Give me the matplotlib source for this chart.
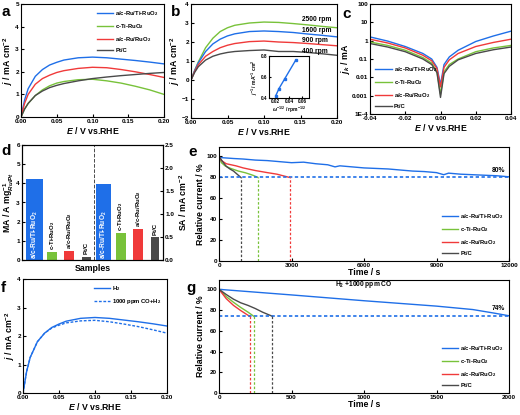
import numpy as np
import matplotlib
matplotlib.use('Agg')
import matplotlib.pyplot as plt

plt.rcParams['font.family'] = ['Liberation Sans', 'DejaVu Sans']
plt.rcParams['font.weight'] = 'bold'
plt.rcParams['axes.labelweight'] = 'bold'
plt.rcParams['mathtext.fontset'] = 'custom'
plt.rcParams['mathtext.rm'] = 'Liberation Sans:bold'
plt.rcParams['mathtext.it'] = 'Liberation Sans:italic:bold'
plt.rcParams['mathtext.bf'] = 'Liberation Sans:bold'
plt.rcParams['axes.linewidth'] = 0.8
plt.rcParams['xtick.direction'] = 'in'
plt.rcParams['ytick.direction'] = 'in'
plt.rcParams['xtick.major.size'] = 2
plt.rcParams['ytick.major.size'] = 2
plt.rcParams['xtick.labelsize'] = 4.6
plt.rcParams['ytick.labelsize'] = 4.6
plt.rcParams['axes.labelsize'] = 6.3
plt.rcParams['xtick.major.pad'] = 1.5
plt.rcParams['ytick.major.pad'] = 1.5

BLUE = '#1f6fe8'
GREEN = '#78c23a'
RED = '#f03a3a'
GRAY = '#4a4a4a'

# ---- data ----
# a: LSV curves
E = [0, 0.005, 0.01, 0.02, 0.03, 0.04, 0.05, 0.06, 0.08, 0.1, 0.12, 0.14, 0.16, 0.18, 0.2]
a_blue = [0, 0.75, 1.25, 1.8, 2.1, 2.3, 2.42, 2.52, 2.62, 2.65, 2.62, 2.56, 2.5, 2.43, 2.35]
a_green = [0, 0.35, 0.6, 0.95, 1.2, 1.38, 1.5, 1.57, 1.65, 1.67, 1.6, 1.5, 1.36, 1.2, 1.0]
a_red = [0, 0.6, 1.0, 1.45, 1.7, 1.85, 1.97, 2.05, 2.15, 2.2, 2.18, 2.1, 2.0, 1.88, 1.75]
a_gray = [0, 0.35, 0.6, 0.95, 1.15, 1.3, 1.4, 1.48, 1.6, 1.7, 1.77, 1.83, 1.88, 1.93, 1.97]
labels = ['a/c-Ru/Ti-RuO$_2$', 'c-Ti-RuO$_2$', 'a/c-Ru/RuO$_2$', 'Pt/C']

# b: rotating speeds
b_2500 = [0, 0.5, 0.95, 1.7, 2.2, 2.55, 2.75, 2.88, 3.0, 3.05, 3.03, 2.97, 2.9, 2.82, 2.75]
b_1600 = [0, 0.5, 0.9, 1.5, 1.9, 2.15, 2.32, 2.43, 2.55, 2.58, 2.55, 2.5, 2.42, 2.35, 2.27]
b_900 = [0, 0.45, 0.8, 1.25, 1.5, 1.7, 1.83, 1.92, 2.02, 2.05, 2.0, 1.97, 1.92, 1.86, 1.8]
b_400 = [0, 0.4, 0.7, 1.05, 1.25, 1.37, 1.45, 1.5, 1.55, 1.58, 1.5, 1.5, 1.45, 1.38, 1.3]
rpm_labels = ['2500 rpm', '1600 rpm', '900 rpm', '400 rpm']
kl_x = [0.02, 0.025, 0.0333, 0.05]
kl_y = [0.42, 0.49, 0.58, 0.76]

# c: kinetic current (log)
Ec = [-0.04, -0.03, -0.02, -0.01, -0.005, -0.002, 0, 0.002, 0.005, 0.01, 0.02, 0.03, 0.04]
c_blue = [1.6, 0.95, 0.48, 0.2, 0.1, 0.035, 0.004, 0.05, 0.13, 0.3, 0.9, 1.8, 3.3]
c_green = [0.85, 0.55, 0.3, 0.12, 0.06, 0.02, 0.0012, 0.02, 0.05, 0.1, 0.25, 0.4, 0.55]
c_red = [1.2, 0.75, 0.4, 0.16, 0.08, 0.03, 0.003, 0.035, 0.09, 0.2, 0.48, 0.8, 1.2]
c_gray = [0.7, 0.45, 0.25, 0.1, 0.05, 0.018, 0.0008, 0.016, 0.04, 0.09, 0.2, 0.32, 0.45]

# d: mass / specific activity
ma_vals = [4.2, 0.42, 0.48, 0.18]
sa_vals = [1.65, 0.59, 0.67, 0.5]

# e: chronoamperometry in H2
e_blue_t = [0, 300, 600, 1000, 1500, 2000, 2500, 3000, 3500, 4000, 4500, 4800, 5000, 5500, 6000,
            6500, 7000, 7500, 8000, 8500, 9000, 9300, 9500, 10000, 10500, 11000, 11500, 12000]
e_blue = [99, 98.5, 98, 97.5, 96.5, 96, 95, 94, 94.5, 93, 92, 90, 91, 90, 89,
          88.5, 88, 87, 86, 85.5, 84.5, 82.5, 84, 83, 82.5, 82, 81.5, 80.5]
e_green_t = [0, 100, 250, 450, 800, 1100, 1400, 1600]
e_green = [100, 94, 91, 88.8, 86, 84.3, 82, 80]
e_gray_t = [0, 150, 300, 450, 600, 750, 900]
e_gray = [100, 95, 90.5, 88, 86, 83, 80]
e_red_t = [0, 100, 300, 700, 1000, 1500, 2000, 2400, 2900]
e_red = [100, 96, 93, 91, 89, 86.5, 84.5, 83, 80]
e_end = [900, 1600, 2950]   # gray, green, red

# f: CO tolerance LSV
f_h2 = a_blue
f_co = [0, 0.75, 1.25, 1.8, 2.1, 2.28, 2.38, 2.46, 2.53, 2.55, 2.5, 2.42, 2.33, 2.22, 2.1]

# g: chronoamperometry in H2 + 1000 ppm CO
g_blue_t = [0, 250, 500, 750, 1000, 1250, 1500, 1750, 1900, 2000]
g_blue = [100, 97.3, 94.6, 91.8, 89, 86.4, 83.8, 80.5, 77, 74.5]
g_green_t = [0, 50, 100, 150, 200, 240]
g_green = [100, 93, 87.5, 82.5, 78, 74]
g_red_t = [0, 50, 100, 150, 211]
g_red = [100, 91, 84.5, 79.5, 74]
g_gray_t = [0, 50, 100, 150, 200, 250, 300, 368]
g_gray = [100, 95, 90.5, 87, 84.5, 81.5, 78, 74]
g_end = [211, 240, 368]   # red, green, gray

fig = plt.figure(figsize=(5.2, 4.15), dpi=100)

def px(l, t, r, b):
    return [l / 520, 1 - b / 415, (r - l) / 520, (b - t) / 415]

leg_kw = dict(frameon=False, fontsize=4.2, handlelength=2.8, labelspacing=0.7, handletextpad=0.4)
xlab_E = '$\\mathit{E}$ / V vs.RHE'
ylab_j = '$\\mathit{j}$ / mA cm$^{-2}$'

# ---- a ----
ax = fig.add_axes(px(21, 4, 164, 117))
for y, c, l in zip([a_blue, a_green, a_red, a_gray], [BLUE, GREEN, RED, GRAY], labels):
    ax.plot(E, y, color=c, lw=1, label=l)
ax.set_xlim(0, 0.2)
ax.set_ylim(0, 5)
ax.set_xticks([0, 0.05, 0.1, 0.15, 0.2])
ax.set_xlabel(xlab_E, labelpad=1)
ax.set_ylabel(ylab_j, labelpad=0)
ax.legend(loc='upper right', **leg_kw)

# ---- b ----
ax = fig.add_axes(px(191, 4, 337, 118))
for y, c in zip([b_2500, b_1600, b_900, b_400], [GREEN, BLUE, RED, GRAY]):
    ax.plot(E, y, color=c, lw=1)
for y, l in zip([3.12, 2.52, 1.99, 1.44], rpm_labels):
    ax.text(0.152, y, l, fontsize=4.8, fontweight='bold')
ax.set_xlim(0, 0.2)
ax.set_ylim(-2, 4)
ax.set_xticks([0, 0.05, 0.1, 0.15, 0.2])
ax.set_xlabel(xlab_E, labelpad=1)
ax.set_ylabel(ylab_j, labelpad=0)
ins = fig.add_axes(px(269, 56, 309, 98))
ins.plot(kl_x, kl_y, color=BLUE, marker='s', ms=1.5, lw=1)
ins.set_xlim(0.01, 0.07)
ins.set_ylim(0.4, 0.8)
ins.set_xticks([0.02, 0.04, 0.06])
ins.set_yticks([0.4, 0.6, 0.8])
ins.tick_params(labelsize=3.3, pad=1, length=1.5)
ins.set_xlabel('$\\omega^{-1/2}$ / rpm$^{-1/2}$', fontsize=3.6, labelpad=0.5)
ins.set_ylabel('$\\mathit{j}^{-1}$ / mA$^{-1}$ cm$^{2}$', fontsize=3.6, labelpad=0.5)

# ---- c ----
ax = fig.add_axes(px(370, 4, 511, 114))
for y, c, l in zip([c_blue, c_green, c_red, c_gray], [BLUE, GREEN, RED, GRAY], labels):
    ax.plot(Ec, y, color=c, lw=1, label=l)
ax.set_yscale('log')
ax.set_xlim(-0.04, 0.04)
ax.set_ylim(1e-4, 100)
ax.set_xticks([-0.04, -0.02, 0, 0.02, 0.04])
ax.set_xticklabels(['-0.04', '-0.02', '0.00', '0.02', '0.04'])
ax.set_yticks([1e-4, 1e-3, 1e-2, 0.1, 1, 10, 100])
ax.set_yticklabels(['1E-4', '0.001', '0.01', '0.1', '1', '10', '100'])
ax.minorticks_off()
ax.set_xlabel(xlab_E, labelpad=1)
ax.set_ylabel('$\\mathit{j}_k$ / mA', labelpad=0)
ax.legend(loc='lower left', **leg_kw)

# ---- d ----
ax = fig.add_axes(px(22, 145, 163, 260))
ax2 = ax.twinx()
xs = np.arange(8) * 1.0
cols = [BLUE, GREEN, RED, GRAY]
widths = [1.0, 0.6, 0.6, 0.5]
for i in range(4):
    ax.bar(xs[i], ma_vals[i], width=widths[i], color=cols[i])
    ax2.bar(xs[i + 4], sa_vals[i], width=widths[i] * 0.9, color=cols[i])
for i in range(4):
    for axx, xx, v, top in [(ax, xs[i], ma_vals[i], 6), (ax2, xs[i + 4], sa_vals[i], 2.5)]:
        if i == 0:
            axx.text(xx, top * 0.01, labels[i], rotation=90, ha='center', va='bottom',
                     color='white', fontsize=4.8, fontweight='bold')
        else:
            axx.text(xx, v + top * 0.02, labels[i], rotation=90, ha='center', va='bottom',
                     color='black', fontsize=4.3, fontweight='bold')
ax.axvline(3.45, color=GRAY, ls='--', lw=0.7)
ax.set_xlim(-0.75, 7.45)
ax.set_ylim(0, 6)
ax2.set_ylim(0, 2.5)
ax.set_xticks([])
ax2.set_yticks([0, 0.5, 1.0, 1.5, 2.0, 2.5])
ax2.set_yticklabels(['0.0', '0.5', '1.0', '1.5', '2.0', '2.5'])
ax2.tick_params(labelsize=4.6, pad=1.5, direction='in', length=2)
ax.set_xlabel('Samples', labelpad=3)
ax.set_ylabel('MA / A mg$^{-1}_{Ru/Pt}$', labelpad=0)
ax2.set_ylabel('SA / mA cm$^{-2}$', labelpad=2)

# ---- e ----
ax = fig.add_axes(px(219, 147, 509, 261))
ax.plot(e_blue_t, e_blue, color=BLUE, lw=1, label=labels[0])
ax.plot(e_green_t, e_green, color=GREEN, lw=1, label=labels[1])
ax.plot(e_red_t, e_red, color=RED, lw=1, label=labels[2])
ax.plot(e_gray_t, e_gray, color=GRAY, lw=1, label=labels[3])
ax.axhline(80, color=BLUE, ls=(0, (2, 1.5)), lw=1.2)
for t, c in zip(e_end, [GRAY, GREEN, RED]):
    ax.plot([t, t], [0, 80], color=c, ls=(0, (2, 1.5)), lw=0.9)
ax.text(11300, 85, '80%', fontsize=4.8, fontweight='bold')
ax.set_xlim(0, 12000)
ax.set_ylim(0, 109)
ax.set_xticks([0, 3000, 6000, 9000, 12000])
ax.set_yticks([0, 20, 40, 60, 80, 100])
ax.set_xlabel('Time / s', labelpad=0)
ax.set_ylabel('Relative current / %', labelpad=1)
ax.legend(loc='lower right', **leg_kw)

# ---- f ----
ax = fig.add_axes(px(23, 279, 167, 393))
ax.plot(E, f_h2, color=BLUE, lw=1, label='H$_2$')
ax.plot(E, f_co, color=BLUE, lw=1, ls=(0, (2, 1.2)), label='1000 ppm CO+H$_2$')
ax.set_xlim(0, 0.2)
ax.set_ylim(0, 4)
ax.set_xticks([0, 0.05, 0.1, 0.15, 0.2])
ax.set_yticks([0, 1, 2, 3, 4])
ax.set_xlabel(xlab_E, labelpad=1)
ax.set_ylabel(ylab_j, labelpad=0)
ax.legend(loc='upper right', **leg_kw)

# ---- g ----
ax = fig.add_axes(px(219, 280, 509, 393))
ax.plot(g_blue_t, g_blue, color=BLUE, lw=1, label=labels[0])
ax.plot(g_green_t, g_green, color=GREEN, lw=1, label=labels[1])
ax.plot(g_red_t, g_red, color=RED, lw=1, label=labels[2])
ax.plot(g_gray_t, g_gray, color=GRAY, lw=1, label=labels[3])
ax.axhline(74, color=BLUE, ls=(0, (2, 1.5)), lw=1.2)
for t, c in zip(g_end, [RED, GREEN, GRAY]):
    ax.plot([t, t], [0, 74], color=c, ls=(0, (2, 1.5)), lw=0.9)
ax.text(1880, 80, '74%', fontsize=4.8, fontweight='bold')
ax.text(1000, 103, 'H$_2$ +1000 ppm CO', fontsize=4.8, fontweight='bold', ha='center')
ax.set_xlim(0, 2000)
ax.set_ylim(0, 109)
ax.set_xticks([0, 500, 1000, 1500, 2000])
ax.set_yticks([0, 20, 40, 60, 80, 100])
ax.set_xlabel('Time / s', labelpad=0)
ax.set_ylabel('Relative current / %', labelpad=1)
ax.legend(loc='lower right', **leg_kw)

# panel letters
for s, x, y in [('a', 1, 12), ('b', 171, 12), ('c', 342, 14), ('d', 1, 151),
                ('e', 188, 152), ('f', 1, 288), ('g', 186, 288)]:
    fig.text(x / 520, 1 - y / 415, s, fontsize=11, fontweight='bold', va='center')

fig.savefig('out.png', dpi=100)
